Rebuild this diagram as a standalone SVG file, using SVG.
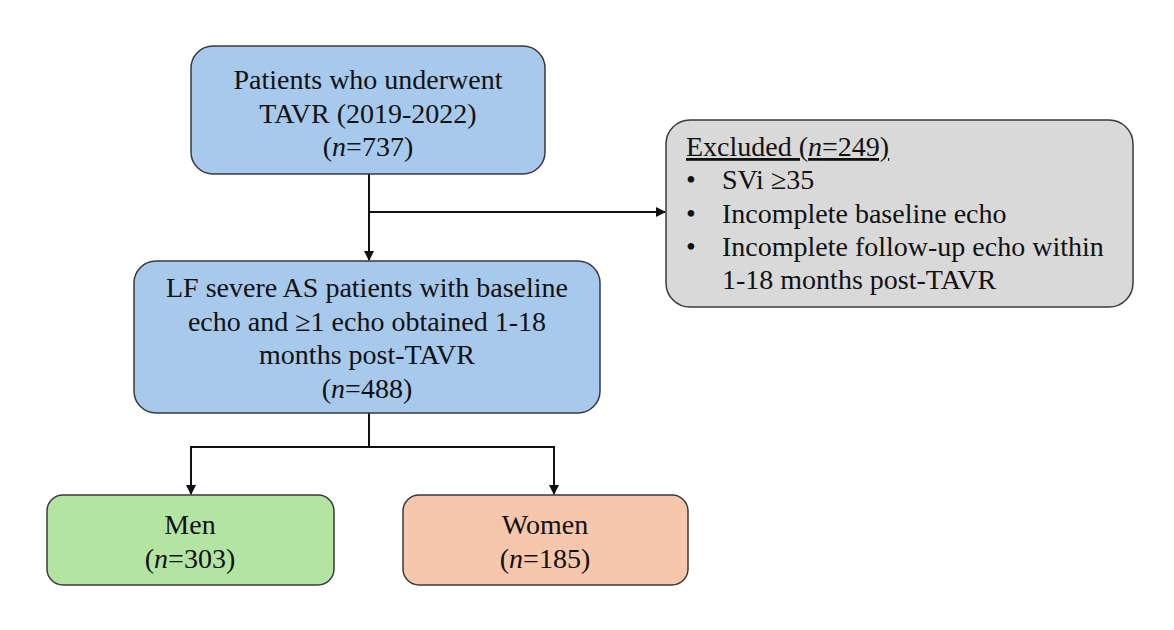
<svg xmlns="http://www.w3.org/2000/svg" width="1174" height="630" viewBox="0 0 1174 630">
<style>
.box{stroke:#3a3a3a;stroke-width:1.5}
.blue{fill:#a7c9ec}
.gray{fill:#d9d9d9}
.green{fill:#b3e4a1}
.orange{fill:#f6c6ad}
text{font-family:"Liberation Serif","Times New Roman",serif;font-size:28px;fill:#111}
.c{text-anchor:middle}
.line{stroke:#111;stroke-width:2;fill:none}
</style>
<defs>
<marker id="arr" markerWidth="10" markerHeight="10" refX="9" refY="5" orient="auto" markerUnits="userSpaceOnUse">
<path d="M0,0 L10,5 L0,10 z" fill="#111"/>
</marker>
</defs>
<rect width="1174" height="630" fill="#fff"/>
<g id="connectors">
<path class="line" d="M369,174 V260" marker-end="url(#arr)"/>
<path class="line" d="M369,212 H665" marker-end="url(#arr)"/>
<path class="line" d="M369,413 V447 M191,447 H554"/>
<path class="line" d="M191,446 V494" marker-end="url(#arr)"/>
<path class="line" d="M554,446 V494" marker-end="url(#arr)"/>
</g>
<g id="n1">
<rect class="box blue" x="191" y="46" width="354" height="128" rx="22"/>
<text class="c" x="368" y="89">Patients who underwent</text>
<text class="c" x="368" y="123">TAVR (2019-2022)</text>
<text class="c" x="368" y="156">(<tspan font-style="italic">n</tspan>=737)</text>
</g>
<g id="excluded">
<rect class="box gray" x="666" y="120" width="467" height="187" rx="24"/>
<text x="686" y="156" text-decoration="underline">Excluded (<tspan font-style="italic">n</tspan>=249)</text>
<text x="686" y="189">•</text><text x="722" y="189">SVi ≥35</text>
<text x="686" y="223">•</text><text x="722" y="223">Incomplete baseline echo</text>
<text x="686" y="256">•</text><text x="722" y="256">Incomplete follow-up echo within</text>
<text x="722" y="289">1-18 months post-TAVR</text>
</g>
<g id="n2">
<rect class="box blue" x="134" y="261" width="466" height="152" rx="22"/>
<text class="c" x="367" y="297">LF severe AS patients with baseline</text>
<text class="c" x="367" y="331">echo and ≥1 echo obtained 1-18</text>
<text class="c" x="367" y="364">months post-TAVR</text>
<text class="c" x="367" y="398">(<tspan font-style="italic">n</tspan>=488)</text>
</g>
<g id="men">
<rect class="box green" x="47" y="495" width="287" height="90" rx="16"/>
<text class="c" x="190" y="534">Men</text>
<text class="c" x="190" y="568">(<tspan font-style="italic">n</tspan>=303)</text>
</g>
<g id="women">
<rect class="box orange" x="403" y="495" width="285" height="90" rx="16"/>
<text class="c" x="545" y="534">Women</text>
<text class="c" x="545" y="568">(<tspan font-style="italic">n</tspan>=185)</text>
</g>
</svg>
